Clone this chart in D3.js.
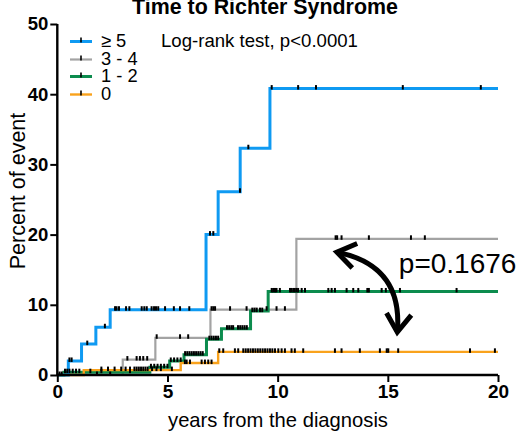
<!DOCTYPE html>
<html><head><meta charset="utf-8">
<script src="https://cdn.jsdelivr.net/npm/d3@7"></script>
<style>body{margin:0;background:#fff}svg{display:block;font-family:"Liberation Sans",Arial,sans-serif}</style>
</head><body><svg id="c" width="519" height="447"></svg>
<script>
const seriesNames = ["≥ 5", "3 - 4", "1 - 2", "0"];
const seriesColors = ["#0f9af2", "#a3a3a3", "#0c8c4e", "#f9a21c"];

const blueTimes  = [0, 0.5, 1.1, 1.75, 2.4, 6.75, 7.3, 8.3, 9.65];
const blueValues = [0, 2.0, 4.4, 6.8, 9.3, 20.0, 26.1, 32.3, 40.8];
const blueCensored = [0.55, 0.65, 1.36, 2.16, 2.62, 2.69, 2.8, 3.12, 3.27, 3.83, 3.95, 4.06, 4.28, 4.39, 4.48, 4.58, 4.89, 5.29, 5.57, 5.99, 6.93, 7.08, 8.29, 8.67, 9.73, 10.93, 11.74, 15.68, 19.22];

const grayTimes  = [0, 2.97, 4.45, 6.95, 10.85];
const grayValues = [0, 2.2, 5.3, 9.3, 19.4];
const grayCensored = [1.8, 2.4, 3.18, 3.6, 3.75, 3.9, 4.08, 4.51, 5.57, 5.94, 7.0, 7.08, 7.16, 7.84, 8.59, 9.5, 9.95, 10.33, 12.63, 12.7, 12.9, 14.14, 16.05, 16.68];

const greenTimes  = [0, 0.3, 4.2, 5.1, 5.75, 6.77, 7.45, 8.77, 9.57];
const greenValues = [0, 0.4, 1.1, 2.0, 2.9, 5.1, 6.6, 9.1, 11.9];
const greenCensored = [0.1, 0.2, 0.35, 0.45, 0.55, 0.7, 0.85, 1.0, 1.5, 2.0, 3.3, 4.25, 4.4, 4.55, 4.7, 4.85, 5.0, 5.15, 5.3, 5.45, 5.6, 5.8, 5.9, 6.0, 6.1, 6.2, 6.3, 6.4, 6.5, 6.6, 6.9, 7.0, 7.1, 7.2, 7.3, 7.7, 7.8, 7.9, 7.98, 8.2, 8.3, 8.4, 8.5, 8.6, 8.85, 8.95, 9.05, 9.2, 9.3, 9.73, 9.8, 9.88, 9.95, 10.1, 10.56, 10.63, 10.71, 10.78, 10.86, 10.93, 11.09, 11.24, 12.3, 12.45, 12.6, 13.13, 13.43, 13.66, 14.07, 14.14, 14.72, 14.91, 15.55, 18.12];

const orangeTimes  = [0, 1.2, 5.6, 7.3];
const orangeValues = [0, 0.7, 1.7, 3.3];
const orangeCensored = [2.0, 2.3, 2.6, 2.9, 3.1, 3.3, 3.5, 3.6, 3.7, 3.8, 3.9, 4.0, 4.1, 4.3, 4.5, 4.7, 5.2, 5.79, 5.87, 6.02, 6.55, 6.7, 6.85, 7.0, 7.35, 7.53, 8.06, 8.21, 8.44, 8.55, 8.66, 8.77, 8.88, 8.99, 9.1, 9.21, 9.32, 9.43, 9.54, 9.65, 9.76, 9.88, 10.03, 10.18, 10.33, 10.63, 10.78, 11.16, 12.6, 12.9, 13.73, 14.64, 14.95, 15.02, 15.47, 18.73, 19.86];

const xTicks = [0, 5, 10, 15, 20];
const yTicks = [0, 10, 20, 30, 40, 50];
const maxYears = 20;

const titleText = "Time to Richter Syndrome";
const logRankText = "Log-rank test, p<0.0001";
const pText = "p=0.1676";
const xTitle = "years from the diagnosis";
const yTitle = "Percent of event";
// annotation arrow in data units: start tip, control, end tip
const arrowStart = [12.69, 17.5];
const arrowCtrl = [15.7, 15.6];
const arrowEnd = [15.43, 6.1];
const pLabelPos = [15.5, 14.5];

const series = [
  {name: seriesNames[0], color: seriesColors[0], t: blueTimes, v: blueValues, c: blueCensored, w: 3},
  {name: seriesNames[1], color: seriesColors[1], t: grayTimes, v: grayValues, c: grayCensored, w: 2.2},
  {name: seriesNames[2], color: seriesColors[2], t: greenTimes, v: greenValues, c: greenCensored, w: 3},
  {name: seriesNames[3], color: seriesColors[3], t: orangeTimes, v: orangeValues, c: orangeCensored, w: 2.4}
];

const svg = d3.select("#c");
const x = d3.scaleLinear().domain([0, 20]).range([57.3, 498]);
const y = d3.scaleLinear().domain([0, 50]).range([375, 24]);

// title
svg.append("text").attr("x", 265).attr("y", 14).attr("text-anchor", "middle")
  .attr("font-weight", "bold").attr("font-size", 21.4).text(titleText);

// curves
const line = d3.line().x(d => x(d[0])).y(d => y(d[1])).curve(d3.curveStepAfter);
const drawOrder = [1, 2, 3, 0];
drawOrder.forEach(i => {
  const s = series[i];
  const pts = s.t.map((t, k) => [t, s.v[k]]);
  pts.push([maxYears, s.v[s.v.length - 1]]);
  svg.append("path").attr("d", line(pts)).attr("fill", "none")
    .attr("stroke", s.color).attr("stroke-width", s.w).attr("stroke-linejoin", "miter");
});
// censor marks
function valueAt(s, t) { const k = d3.bisectRight(s.t, t) - 1; return s.v[Math.max(0, k)]; }
series.forEach(s => {
  svg.append("g").selectAll("line").data(s.c).join("line")
    .attr("x1", d => x(d)).attr("x2", d => x(d))
    .attr("y1", d => y(valueAt(s, d)) - 3.5).attr("y2", d => y(valueAt(s, d)) + 1)
    .attr("stroke", "#000").attr("stroke-width", 2);
});

// axes
const xAxis = svg.append("g").attr("transform", "translate(0,375)")
  .call(d3.axisBottom(x).tickValues(xTicks).tickSize(7).tickPadding(3).tickFormat(d3.format("d")));
const yAxis = svg.append("g").attr("transform", "translate(57.3,0)")
  .call(d3.axisLeft(y).tickValues(yTicks).tickSize(7).tickPadding(2).tickFormat(d3.format("d")));
[xAxis, yAxis].forEach(g => {
  g.select(".domain").attr("stroke", "#000").attr("stroke-width", 2.4);
  g.selectAll(".tick line").attr("stroke", "#000").attr("stroke-width", 2);
  g.selectAll(".tick text").attr("fill", "#000").attr("font-weight", "bold")
    .attr("font-family", "Liberation Sans, Arial, sans-serif");
});
xAxis.selectAll(".tick text").attr("font-size", 19);
yAxis.selectAll(".tick text").attr("font-size", 18.5);
// remove outer tick extension of domain paths
xAxis.select(".domain").attr("d", `M${x(0)},0H${x(20)}`);
yAxis.select(".domain").attr("d", `M0,${y(0)}V${y(50)}`);

// axis titles
svg.append("text").attr("x", 278).attr("y", 427).attr("text-anchor", "middle")
  .attr("font-size", 20.2).text(xTitle);
svg.append("text").attr("transform", "translate(25,191) rotate(-90)").attr("text-anchor", "middle")
  .attr("font-size", 21.5).text(yTitle);

// legend
const legendBase = [47, 65, 82, 100];
series.forEach((s, i) => {
  const ly = legendBase[i] - 5.5;
  svg.append("line").attr("x1", 70).attr("x2", 92).attr("y1", ly).attr("y2", ly)
    .attr("stroke", s.color).attr("stroke-width", s.w);
  svg.append("line").attr("x1", 81).attr("x2", 81).attr("y1", ly - 4).attr("y2", ly + 1)
    .attr("stroke", "#000").attr("stroke-width", 1.6);
  svg.append("text").attr("x", 101).attr("y", legendBase[i]).attr("font-size", 18.3).text(s.name);
});
svg.append("text").attr("x", 161).attr("y", 47).attr("font-size", 18.6).text(logRankText);

// annotation
svg.append("text").attr("x", x(pLabelPos[0])).attr("y", y(pLabelPos[1]))
  .attr("font-size", 28).text(pText);
const a0 = [x(arrowStart[0]), y(arrowStart[1])], ac = [x(arrowCtrl[0]), y(arrowCtrl[1])], a1 = [x(arrowEnd[0]), y(arrowEnd[1])];
const ap = d3.path(); ap.moveTo(a0[0], a0[1]); ap.quadraticCurveTo(ac[0], ac[1], a1[0], a1[1]);
svg.append("path").attr("d", ap.toString()).attr("fill", "none").attr("stroke", "#000").attr("stroke-width", 5);
function head(tip, from) {
  const ang = Math.atan2(tip[1] - from[1], tip[0] - from[0]);
  const L = 22, spread = 0.6;
  const p1 = [tip[0] - L * Math.cos(ang - spread), tip[1] - L * Math.sin(ang - spread)];
  const p2 = [tip[0] - L * Math.cos(ang + spread), tip[1] - L * Math.sin(ang + spread)];
  svg.append("path").attr("d", `M${p1}L${tip}L${p2}`).attr("fill", "none")
    .attr("stroke", "#000").attr("stroke-width", 5).attr("stroke-linejoin", "miter").attr("stroke-miterlimit", 10);
}
head(a0, ac); head(a1, ac);
</script></body></html>
